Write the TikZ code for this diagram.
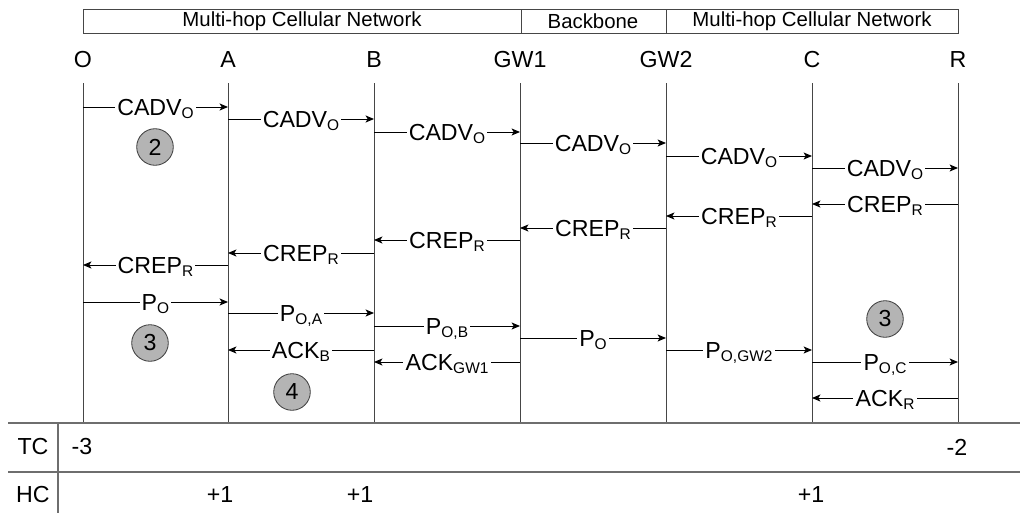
\documentclass[tikz,border=0pt]{standalone}
\usepackage{fontspec}
\setmainfont{Liberation Sans}
\usetikzlibrary{arrows.meta}
\definecolor{lifegray}{RGB}{70,70,70}
\definecolor{rulegray}{RGB}{110,110,110}
\definecolor{badgegray}{RGB}{180,180,180}
\newcommand\lowidx[1]{\raisebox{-2.4pt}{\fontsize{11}{12}\selectfont #1}}

\begin{document}
\begin{tikzpicture}[x=0.025cm,y=-0.025cm,font=\fontsize{16.5}{19}\selectfont,
  life/.style={draw=lifegray,line width=0.7pt},
  msg/.style={-{Stealth[length=6pt,width=5pt,inset=1.5pt]},line width=0.6pt},
  lbl/.style={midway,fill=white,inner sep=1.5pt,text height=11.6pt,text depth=0pt},
  band/.style={draw=lifegray,line width=0.6pt},
  badge/.style={circle,draw=black!75,line width=0.6pt,fill=badgegray,minimum size=26pt,inner sep=0pt},
  rule/.style={draw=rulegray,line width=0.8pt}]
\useasboundingbox (0,0) rectangle (1020,513);
% network segments on top
\draw[band] (83,9) rectangle (521,33) (521,9) rectangle (666,33) (666,9) rectangle (958,33);
\node[font=\fontsize{14.5}{16}\selectfont] (net1) at (302,21) {Multi-hop Cellular Network};
\node[font=\fontsize{14.5}{16}\selectfont] (core) at (593,21) {Backbone};
\node[font=\fontsize{14.5}{16}\selectfont] (net2) at (812,21) {Multi-hop Cellular Network};
% stations and lifelines
\foreach \n/\x in {O/83,A/228,B/374,GW1/520,GW2/666,C/812,R/958}{
  \node (\n) at (\x,60) {\n};
  \draw[life] (\n |- 0,83) -- (\n |- 0,423);
}
% messages
\foreach \a/\b/\y/\t [count=\i] in {O/A/107/{CADV\lowidx{O}},A/B/119/{CADV\lowidx{O}},B/GW1/132/{CADV\lowidx{O}},
  GW1/GW2/143/{CADV\lowidx{O}},GW2/C/156/{CADV\lowidx{O}},C/R/168/{CADV\lowidx{O}},
  R/C/204/{CREP\lowidx{R}},C/GW2/216/{CREP\lowidx{R}},GW2/GW1/228/{CREP\lowidx{R}},
  GW1/B/240/{CREP\lowidx{R}},B/A/253/{CREP\lowidx{R}},A/O/265/{CREP\lowidx{R}},
  O/A/302/{P\lowidx{O}},A/B/313/{P\lowidx{O,A}},B/GW1/326/{P\lowidx{O,B}},
  GW1/GW2/338/{P\lowidx{O}},GW2/C/350/{P\lowidx{O,GW2}},C/R/362/{P\lowidx{O,C}},
  B/A/350/{ACK\lowidx{B}},GW1/B/362/{ACK\lowidx{GW1}},R/C/398/{ACK\lowidx{R}}}
  \draw[msg] (\a |- 0,\y) -- node[lbl] (msg\i) {\t} (\b |- 0,\y);
% phases
\node[badge] (ph2) at (155,147) {2};
\node[badge] (ph3a) at (150,343) {3};
\node[badge] (ph4) at (292,392) {4};
\node[badge] (ph3b) at (885,319) {3};
% counters
\draw[rule] (8,423) -- (1020,423) (8,472) -- (1020,472) (58,423) -- (58,513);
\node (tc) at (33,447) {TC};
\node (hc) at (33,495) {HC};
\node (tcO) at (82,447) {-3};
\node (tcR) at (957,447) {-2};
\node (hcA) at (220,495) {+1};
\node (hcB) at (360,495) {+1};
\node (hcC) at (811,495) {+1};
\end{tikzpicture}
\end{document}
